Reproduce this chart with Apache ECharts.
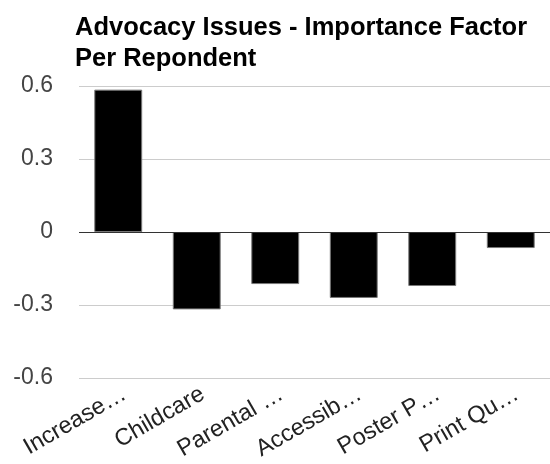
<!DOCTYPE html>
<html>
<head>
<meta charset="utf-8">
<script src="https://cdn.jsdelivr.net/npm/echarts@6/dist/echarts.min.js"></script>
<style>html,body{margin:0;padding:0;background:#fff}#c{width:550px;height:464px}</style>
</head>
<body>
<div id="c"></div>
<script>
const categories = ["Increase…", "Childcare", "Parental …", "Accessib…", "Poster P…", "Print Qu…"];
const values = [0.585, -0.318, -0.214, -0.271, -0.222, -0.066];
const yTicks = { min: -0.6, max: 0.6, interval: 0.3 };
const titleText = "Advocacy Issues - Importance Factor\nPer Repondent";

const chart = echarts.init(document.getElementById('c'), null, { renderer: 'canvas' });
chart.setOption({
  animation: false,
  backgroundColor: '#fff',
  textStyle: { fontFamily: 'Liberation Sans, Arial, sans-serif' },
  title: {
    text: titleText,
    left: 70,
    top: 7,
    textStyle: { fontSize: 25.5, fontWeight: 'bold', color: '#000', lineHeight: 31, fontFamily: 'Liberation Sans, Arial, sans-serif' }
  },
  grid: { left: 79, right: -3, top: 86, bottom: 86, containLabel: false },
  xAxis: {
    type: 'category',
    data: categories,
    axisLine: { show: false },
    axisTick: { show: false },
    axisLabel: { rotate: 30, fontSize: 23.5, color: '#222', margin: 4, interval: 0, align: 'right', verticalAlign: 'top' },
    splitLine: { show: false }
  },
  yAxis: {
    type: 'value',
    min: yTicks.min, max: yTicks.max, interval: yTicks.interval,
    axisLine: { show: false },
    axisTick: { show: false },
    axisLabel: { fontSize: 23, color: '#444', margin: 26, formatter: v => (Math.abs(v) < 1e-9 ? '0' : String(Math.round(v * 10) / 10)) },
    splitLine: { lineStyle: { color: '#ccc', width: 1 } }
  },
  series: [{
    type: 'bar',
    data: values,
    barWidth: '61%',
    itemStyle: { color: '#000', borderColor: '#777', borderWidth: 1 },
    markLine: {
      silent: true, symbol: 'none', label: { show: false },
      lineStyle: { color: '#333', width: 1, type: 'solid' },
      data: [{ yAxis: 0 }]
    }
  }]
});
</script>
</body>
</html>
